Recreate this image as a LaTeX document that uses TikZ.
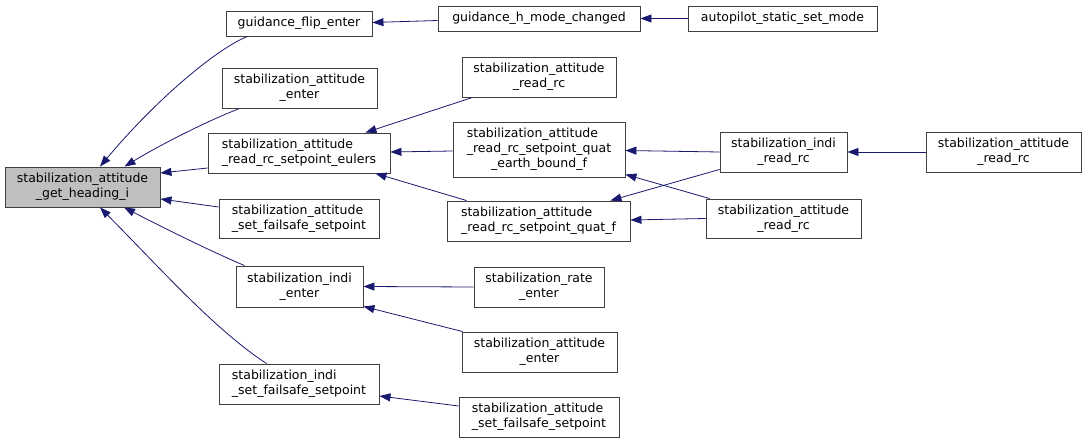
\documentclass[tikz,border=0pt]{standalone}
\usepackage{fontspec}
\setmainfont{DejaVu Sans}
\usetikzlibrary{arrows.meta}
\definecolor{edgeblue}{HTML}{191970}
\definecolor{rootgray}{HTML}{BFBFBF}
\definecolor{boxline}{HTML}{404040}
\begin{document}
\begin{tikzpicture}[x=1pt,y=-1pt,
  fn/.style={draw=boxline, line width=0.9pt, fill=white, inner sep=0pt,
    font=\fontsize{12.5}{15}\selectfont, align=center},
  fnl/.style={fn, align=left},
  call/.style={draw=edgeblue, line width=0.8pt, -{Triangle[length=11pt,width=8pt]}},
]
\useasboundingbox (0,0) rectangle (1087,443);

% column 0
\node[fn, fill=rootgray, minimum width=155pt, minimum height=40pt] (head) at (82.5,187) {stabilization\_attitude\\\_get\_heading\_i};

% column 1
\node[fn, minimum width=146pt, minimum height=25pt] (gfe) at (299,23.5) {guidance\_flip\_enter};
\node[fn, minimum width=155pt, minimum height=40pt] (sae1) at (299.5,88) {stabilization\_attitude\\\_enter};
\node[fnl, minimum width=182pt, minimum height=40pt] (eul) at (299,153) {stabilization\_attitude\\\_read\_rc\_setpoint\_eulers};
\node[fnl, minimum width=160pt, minimum height=39pt] (sfs1) at (299,218.5) {stabilization\_attitude\\\_set\_failsafe\_setpoint};
\node[fn, minimum width=127pt, minimum height=41pt] (ie) at (299.5,286.5) {stabilization\_indi\\\_enter};
\node[fnl, minimum width=160pt, minimum height=40pt] (ifs) at (299,384) {stabilization\_indi\\\_set\_failsafe\_setpoint};

% column 2
\node[fn, minimum width=202pt, minimum height=25pt] (ghm) at (539,18.5) {guidance\_h\_mode\_changed};
\node[fn, minimum width=154pt, minimum height=40pt] (rrc1) at (539,77) {stabilization\_attitude\\\_read\_rc};
\node[fn, minimum width=172pt, minimum height=55pt] (qeb) at (539,149.5) {\begin{tabular}{@{}l@{}}stabilization\_attitude\\\_read\_rc\_setpoint\_quat\\\multicolumn{1}{@{}c@{}}{\_earth\_bound\_f}\end{tabular}};
\node[fnl, minimum width=183pt, minimum height=40pt] (qf) at (538.5,221) {stabilization\_attitude\\\_read\_rc\_setpoint\_quat\_f};
\node[fn, minimum width=130pt, minimum height=40pt] (re) at (539,287) {stabilization\_rate\\\_enter};
\node[fn, minimum width=155pt, minimum height=40pt] (sae2) at (539.5,352) {stabilization\_attitude\\\_enter};
\node[fnl, minimum width=160pt, minimum height=40pt] (sfs2) at (539,417) {stabilization\_attitude\\\_set\_failsafe\_setpoint};

% column 3
\node[fn, minimum width=189pt, minimum height=25pt] (asm) at (782.5,18.5) {autopilot\_static\_set\_mode};
\node[fn, minimum width=127pt, minimum height=40pt] (irc) at (783.5,152) {stabilization\_indi\\\_read\_rc};
\node[fn, minimum width=155pt, minimum height=39pt] (rrc2) at (783.5,218.5) {stabilization\_attitude\\\_read\_rc};

% column 4
\node[fn, minimum width=155pt, minimum height=40pt] (rrc3) at (1003.5,152) {stabilization\_attitude\\\_read\_rc};

% edges into head
\draw[call] ([xshift=22pt]gfe.south west) .. controls (220,47) and (160,95) .. ([xshift=17.5pt]head.north);
\draw[call] ([xshift=18pt]sae1.south west) .. controls (205,122) and (160,145) .. ([xshift=42pt]head.north);
\draw[call] ([yshift=-15pt]eul.west) -- ([yshift=14pt]head.east);
\draw[call] ([yshift=11.5pt]sfs1.west) -- ([yshift=-12pt]head.east);
\draw[call] ([xshift=9pt]ie.north west) .. controls (210,251) and (160,226) .. ([xshift=41.5pt]head.south);
\draw[call] ([xshift=48pt]ifs.north west) .. controls (215,330) and (160,268) .. ([xshift=17.5pt]head.south);

% other edges
\draw[call] ([yshift=-2pt]ghm.west) -- ([yshift=1pt]gfe.east);
\draw[call] (asm.west) -- (ghm.east);
\draw[call] ([xshift=11pt]rrc1.south west) -- ([xshift=-25pt]eul.north east);
\draw[call] ([yshift=-1.5pt]qeb.west) -- ([yshift=1pt]eul.east);
\draw[call] ([xshift=20pt]qf.north west) -- ([xshift=-15pt]eul.south east);
\draw[call] (irc.west) -- ([yshift=-1pt]qeb.east);
\draw[call] ([yshift=3pt]irc.south west) -- ([xshift=-20pt]qf.north east);
\draw[call] ([xshift=4pt]rrc2.north west) -- ([yshift=3pt]qeb.south east);
\draw[call] (rrc2.west) -- ([yshift=1pt]qf.east);
\draw[call] (rrc3.west) -- (irc.east);
\draw[call] (re.west) -- (ie.east);
\draw[call] ([xshift=1pt]sae2.north west) -- ([yshift=1pt]ie.south east);
\draw[call] ([yshift=11pt]sfs2.west) -- ([yshift=-12pt]ifs.east);
\end{tikzpicture}
\end{document}
